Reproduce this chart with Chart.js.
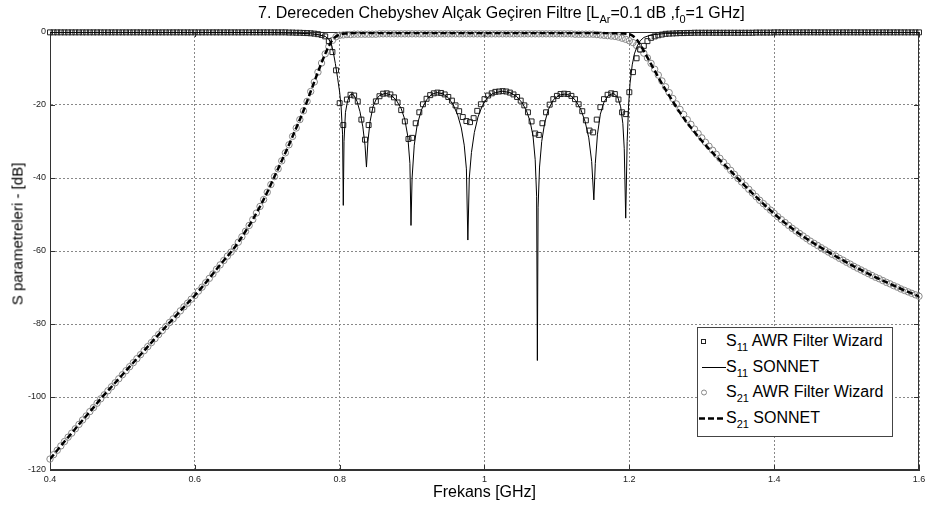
<!DOCTYPE html>
<html>
<head>
<meta charset="utf-8">
<script src="https://cdn.jsdelivr.net/npm/chart.js@4.4.0/dist/chart.umd.min.js"></script>
<style>
  body { margin: 0; background: #fff; }
  #wrap { position: relative; width: 925px; height: 508px; font-family: 'Liberation Sans', Arial, sans-serif; color: #000; }
  #title { position: absolute; left: 258px; top: 4px; font-size: 16px; line-height: 18px; white-space: nowrap; }
  #ytitle { position: absolute; left: 17px; top: 234px; font-size: 15px; line-height: 17px; white-space: nowrap; transform: translate(-50%, -50%) rotate(-90deg); }
  sub { font-size: 11px; vertical-align: -5px; line-height: 0; }
  #legend { position: absolute; left: 697px; top: 327px; width: 196px; height: 110px; border: 1px solid #444; background: #fff; box-sizing: border-box; }
  .row { position: absolute; left: 0; width: 100%; height: 20px; font-size: 16px; line-height: 20px; white-space: nowrap; }
  .row svg { position: absolute; left: 0; top: 0; }
  .row span { position: absolute; left: 28px; top: 0; }
</style>
</head>
<body>
<div id="wrap">
  <canvas id="chart" width="925" height="508"></canvas>
  <div id="title">7. Dereceden Chebyshev Alçak Geçiren Filtre [L<sub>Ar</sub>=0.1 dB ,f<sub>0</sub>=1 GHz]</div>
  <div id="ytitle">S parametreleri - [dB]</div>
  <div id="legend">
    <div class="row" style="top:3px">
      <svg width="28" height="20"><rect x="3.5" y="8.5" width="4" height="4" fill="none" stroke="#222" stroke-width="1"/></svg>
      <span>S<sub>11</sub> AWR Filter Wizard</span>
    </div>
    <div class="row" style="top:29px">
      <svg width="28" height="20"><line x1="4" y1="10.5" x2="28" y2="10.5" stroke="#000" stroke-width="1"/></svg>
      <span>S<sub>11</sub> SONNET</span>
    </div>
    <div class="row" style="top:54px">
      <svg width="28" height="20"><circle cx="6" cy="10.5" r="2.5" fill="none" stroke="#888" stroke-width="1"/></svg>
      <span>S<sub>21</sub> AWR Filter Wizard</span>
    </div>
    <div class="row" style="top:80px">
      <svg width="28" height="20"><line x1="1" y1="10.5" x2="27" y2="10.5" stroke="#000" stroke-width="2.5" stroke-dasharray="6,3"/></svg>
      <span>S<sub>21</sub> SONNET</span>
    </div>
  </div>
</div>
<script>
// Frequency sweep of the AWR Filter Wizard markers [GHz]
const freqAwr = [
  0.4, 0.405, 0.41, 0.415, 0.42, 0.425, 0.43, 0.435, 0.44, 0.445,
  0.45, 0.455, 0.46, 0.465, 0.47, 0.475, 0.48, 0.485, 0.49, 0.495,
  0.5, 0.505, 0.51, 0.515, 0.52, 0.525, 0.53, 0.535, 0.54, 0.545,
  0.55, 0.555, 0.56, 0.565, 0.57, 0.575, 0.58, 0.585, 0.59, 0.595,
  0.6, 0.605, 0.61, 0.615, 0.62, 0.625, 0.63, 0.635, 0.64, 0.645,
  0.65, 0.655, 0.66, 0.665, 0.67, 0.675, 0.68, 0.685, 0.69, 0.695,
  0.7, 0.705, 0.71, 0.715, 0.72, 0.725, 0.73, 0.735, 0.74, 0.745,
  0.75, 0.755, 0.76, 0.765, 0.77, 0.775, 0.78, 0.785, 0.79, 0.795,
  0.8, 0.805, 0.81, 0.815, 0.82, 0.825, 0.83, 0.835, 0.84, 0.845,
  0.85, 0.855, 0.86, 0.865, 0.87, 0.875, 0.88, 0.885, 0.89, 0.895,
  0.9, 0.905, 0.91, 0.915, 0.92, 0.925, 0.93, 0.935, 0.94, 0.945,
  0.95, 0.955, 0.96, 0.965, 0.97, 0.975, 0.98, 0.985, 0.99, 0.995,
  1, 1.005, 1.01, 1.015, 1.02, 1.025, 1.03, 1.035, 1.04, 1.045,
  1.05, 1.055, 1.06, 1.065, 1.07, 1.075, 1.08, 1.085, 1.09, 1.095,
  1.1, 1.105, 1.11, 1.115, 1.12, 1.125, 1.13, 1.135, 1.14, 1.145,
  1.15, 1.155, 1.16, 1.165, 1.17, 1.175, 1.18, 1.185, 1.19, 1.195,
  1.2, 1.205, 1.21, 1.215, 1.22, 1.225, 1.23, 1.235, 1.24, 1.245,
  1.25, 1.255, 1.26, 1.265, 1.27, 1.275, 1.28, 1.285, 1.29, 1.295,
  1.3, 1.305, 1.31, 1.315, 1.32, 1.325, 1.33, 1.335, 1.34, 1.345,
  1.35, 1.355, 1.36, 1.365, 1.37, 1.375, 1.38, 1.385, 1.39, 1.395,
  1.4, 1.405, 1.41, 1.415, 1.42, 1.425, 1.43, 1.435, 1.44, 1.445,
  1.45, 1.455, 1.46, 1.465, 1.47, 1.475, 1.48, 1.485, 1.49, 1.495,
  1.5, 1.505, 1.51, 1.515, 1.52, 1.525, 1.53, 1.535, 1.54, 1.545,
  1.55, 1.555, 1.56, 1.565, 1.57, 1.575, 1.58, 1.585, 1.59, 1.595,
  1.6
];

// S11 [dB], AWR Filter Wizard
const s11Awr = [
  -0.1, -0.1, -0.1, -0.1, -0.1, -0.1, -0.1, -0.1, -0.1, -0.1,
  -0.1, -0.1, -0.1, -0.1, -0.1, -0.1, -0.1, -0.1, -0.1, -0.1,
  -0.1, -0.1, -0.1, -0.1, -0.1, -0.1, -0.1, -0.1, -0.1, -0.1,
  -0.1, -0.1, -0.1, -0.1, -0.1, -0.1, -0.1, -0.1, -0.1, -0.1,
  -0.1, -0.1, -0.1, -0.1, -0.1, -0.1, -0.1, -0.1, -0.1, -0.1,
  -0.1, -0.1, -0.1, -0.1, -0.1, -0.1, -0.1, -0.1, -0.1, -0.1,
  -0.1, -0.1, -0.1, -0.1, -0.1, -0.1, -0.15, -0.15, -0.2, -0.2,
  -0.25, -0.3, -0.35, -0.45, -0.6, -0.8, -1.2, -2.5, -5.5, -10.5,
  -19.5, -25.5, -18.5, -17.2, -17.4, -19.0, -24.0, -29.5, -25.5, -21.3,
  -19.0, -17.6, -16.9, -16.8, -17.1, -17.9, -19.3, -21.4, -24.5, -29.3,
  -29.0, -25.0, -22.0, -19.8, -18.3, -17.3, -16.8, -16.6, -16.7, -17.1,
  -17.8, -18.8, -20.1, -21.7, -23.3, -24.4, -24.7, -23.6, -21.6, -19.8,
  -18.4, -17.4, -16.8, -16.4, -16.3, -16.2, -16.3, -16.6, -17.1, -17.8,
  -18.8, -20.1, -22.0, -24.5, -27.8, -28.2, -25.0, -22.0, -19.9, -18.4,
  -17.5, -17.0, -16.9, -17.0, -17.5, -18.4, -19.8, -21.7, -24.2, -27.0,
  -27.5, -24.0, -20.6, -18.4, -17.2, -16.8, -17.0, -18.5, -22.0, -22.5,
  -16.5, -11.0, -7.2, -4.8, -3.8, -2.5, -1.6, -1.2, -0.9, -0.7,
  -0.5, -0.45, -0.4, -0.35, -0.3, -0.3, -0.25, -0.25, -0.2, -0.2,
  -0.2, -0.2, -0.2, -0.2, -0.2, -0.2, -0.2, -0.2, -0.2, -0.2,
  -0.2, -0.2, -0.2, -0.2, -0.2, -0.15, -0.15, -0.15, -0.15, -0.15,
  -0.1, -0.1, -0.1, -0.1, -0.1, -0.1, -0.1, -0.1, -0.1, -0.1,
  -0.1, -0.1, -0.1, -0.1, -0.1, -0.1, -0.1, -0.1, -0.1, -0.1,
  -0.1, -0.1, -0.1, -0.1, -0.1, -0.1, -0.1, -0.1, -0.1, -0.1,
  -0.1, -0.1, -0.1, -0.1, -0.1, -0.1, -0.1, -0.1, -0.1, -0.1,
  -0.1
];

// S21 [dB], AWR Filter Wizard
const s21Awr = [
  -117.0, -115.8, -114.6, -113.4, -112.2, -111.0, -109.9, -108.7, -107.5, -106.3,
  -105.2, -104.0, -102.9, -101.7, -100.5, -99.4, -98.3, -97.2, -96.1, -95.0,
  -93.9, -92.8, -91.7, -90.6, -89.5, -88.4, -87.3, -86.2, -85.1, -84.0,
  -82.9, -81.8, -80.7, -79.6, -78.6, -77.5, -76.4, -75.3, -74.3, -73.2,
  -72.2, -71.0, -69.9, -68.7, -67.5, -66.3, -65.0, -63.8, -62.6, -61.4,
  -60.3, -59.0, -57.6, -56.1, -54.6, -53.0, -51.4, -49.6, -47.8, -45.9,
  -43.9, -41.8, -39.6, -37.5, -35.3, -33.1, -30.9, -28.6, -26.3, -24.0,
  -21.6, -19.0, -16.3, -13.7, -11.0, -8.5, -6.0, -4.0, -2.3, -1.3,
  -0.9, -0.8, -0.7, -0.7, -0.6, -0.6, -0.6, -0.6, -0.6, -0.6,
  -0.6, -0.5, -0.5, -0.5, -0.5, -0.5, -0.5, -0.5, -0.5, -0.5,
  -0.5, -0.5, -0.5, -0.5, -0.5, -0.5, -0.5, -0.5, -0.5, -0.5,
  -0.5, -0.5, -0.5, -0.5, -0.5, -0.5, -0.5, -0.5, -0.5, -0.5,
  -0.5, -0.5, -0.5, -0.5, -0.5, -0.5, -0.5, -0.5, -0.5, -0.5,
  -0.5, -0.5, -0.5, -0.5, -0.5, -0.5, -0.5, -0.5, -0.5, -0.5,
  -0.5, -0.5, -0.5, -0.5, -0.5, -0.6, -0.6, -0.6, -0.6, -0.6,
  -0.6, -0.7, -0.8, -0.9, -1.0, -1.1, -1.2, -1.4, -1.7, -2.0,
  -2.4, -2.9, -3.7, -4.7, -5.8, -7.1, -8.6, -10.2, -11.8, -13.4,
  -15.0, -16.6, -18.2, -19.7, -21.2, -22.6, -24.0, -25.3, -26.6, -27.8,
  -29.0, -30.2, -31.3, -32.4, -33.5, -34.6, -35.7, -36.8, -37.9, -39.0,
  -40.1, -41.1, -42.1, -43.1, -44.1, -45.1, -46.1, -47.0, -47.9, -48.8,
  -49.7, -50.6, -51.4, -52.2, -53.0, -53.8, -54.5, -55.2, -55.9, -56.6,
  -57.3, -57.9, -58.5, -59.1, -59.7, -60.3, -60.9, -61.4, -62.0, -62.5,
  -63.1, -63.6, -64.2, -64.7, -65.2, -65.7, -66.2, -66.7, -67.2, -67.6,
  -68.1, -68.6, -69.0, -69.5, -69.9, -70.4, -70.8, -71.2, -71.6, -72.0,
  -72.4
];

// S11 [dB], SONNET (its own frequency points, denser at the reflection zeros)
const freqS11Sonnet = [
  0.4, 0.5, 0.6, 0.7, 0.74, 0.76, 0.77, 0.78, 0.785, 0.788,
  0.791, 0.794, 0.797, 0.8, 0.802, 0.804, 0.805, 0.806, 0.808, 0.811,
  0.814, 0.817, 0.82, 0.824, 0.828, 0.832, 0.835, 0.837, 0.839, 0.842,
  0.846, 0.85, 0.855, 0.863, 0.87, 0.878, 0.885, 0.89, 0.894, 0.897,
  0.8985, 0.9, 0.903, 0.907, 0.913, 0.92, 0.927, 0.934, 0.942, 0.95,
  0.957, 0.963, 0.968, 0.972, 0.975, 0.977, 0.979, 0.982, 0.986, 0.991,
  0.997, 1.004, 1.012, 1.024, 1.035, 1.044, 1.052, 1.058, 1.063, 1.067,
  1.07, 1.072, 1.073, 1.074, 1.076, 1.079, 1.083, 1.088, 1.095, 1.103,
  1.111, 1.119, 1.126, 1.133, 1.139, 1.144, 1.148, 1.151, 1.153, 1.156,
  1.16, 1.165, 1.171, 1.178, 1.184, 1.188, 1.191, 1.193, 1.195, 1.197,
  1.199, 1.201, 1.204, 1.207, 1.211, 1.215, 1.22, 1.23, 1.25, 1.3,
  1.4, 1.5, 1.6
];
const s11Sonnet = [
  -0.05, -0.05, -0.08, -0.15, -0.3, -0.5, -0.7, -1.2, -2.0, -3.0,
  -5.3, -8.6, -12.4, -16.5, -20.5, -28, -47.5, -30, -22, -18.8,
  -17.3, -17.0, -17.4, -19.0, -21.8, -26, -31, -37, -30, -24.5,
  -20.5, -18.6, -17.4, -16.8, -17.2, -18.6, -21.0, -24.0, -28.5, -36,
  -53, -40, -31, -25.5, -21.3, -18.6, -17.1, -16.6, -16.9, -18.0,
  -20.0, -22.8, -26.3, -31.0, -37.5, -57, -40, -33, -27.5, -23.3,
  -20.2, -18.0, -16.8, -16.2, -16.6, -17.6, -19.4, -21.6, -24.5, -28.5,
  -35, -45, -90, -48, -37, -30, -25, -21.3, -18.6, -17.3,
  -17.0, -17.4, -18.8, -21.2, -24.6, -29, -35.5, -46, -36, -28,
  -22.5, -19.2, -17.4, -16.8, -17.8, -20.5, -25, -32, -51, -30,
  -20, -14, -9, -6, -3.8, -2.4, -1.5, -0.8, -0.4, -0.2,
  -0.1, -0.05, -0.05
];

// S21 [dB], SONNET
const freqS21Sonnet = [
  0.4, 0.41, 0.42, 0.43, 0.44, 0.45, 0.46, 0.47, 0.48, 0.49,
  0.5, 0.51, 0.52, 0.53, 0.54, 0.55, 0.56, 0.57, 0.58, 0.59,
  0.6, 0.61, 0.62, 0.63, 0.64, 0.65, 0.66, 0.67, 0.68, 0.69,
  0.7, 0.71, 0.72, 0.73, 0.74, 0.75, 0.76, 0.77, 0.78, 0.79,
  0.8, 0.81, 0.82, 0.83, 0.84, 0.85, 0.86, 0.87, 0.88, 0.89,
  0.9, 0.91, 0.92, 0.93, 0.94, 0.95, 0.96, 0.97, 0.98, 0.99,
  1, 1.01, 1.02, 1.03, 1.04, 1.05, 1.06, 1.07, 1.08, 1.09,
  1.1, 1.11, 1.12, 1.13, 1.14, 1.15, 1.16, 1.17, 1.18, 1.19,
  1.2, 1.21, 1.22, 1.23, 1.24, 1.25, 1.26, 1.27, 1.28, 1.29,
  1.3, 1.31, 1.32, 1.33, 1.34, 1.35, 1.36, 1.37, 1.38, 1.39,
  1.4, 1.41, 1.42, 1.43, 1.44, 1.45, 1.46, 1.47, 1.48, 1.49,
  1.5, 1.51, 1.52, 1.53, 1.54, 1.55, 1.56, 1.57, 1.58, 1.59,
  1.6
];
const s21Sonnet = [
  -117.0, -114.6, -112.2, -109.9, -107.5, -105.2, -102.9, -100.5, -98.3, -96.1,
  -93.9, -91.7, -89.5, -87.3, -85.1, -82.9, -80.7, -78.6, -76.4, -74.3,
  -72.2, -69.9, -67.5, -65.0, -62.6, -60.3, -57.6, -54.6, -51.4, -47.8,
  -43.9, -39.6, -35.3, -30.9, -26.3, -21.6, -16.3, -11.0, -6.0, -2.2,
  -0.7, -0.4, -0.3, -0.3, -0.3, -0.3, -0.3, -0.3, -0.3, -0.3,
  -0.3, -0.3, -0.3, -0.3, -0.3, -0.3, -0.3, -0.3, -0.3, -0.3,
  -0.3, -0.3, -0.3, -0.3, -0.3, -0.3, -0.3, -0.3, -0.3, -0.3,
  -0.3, -0.3, -0.3, -0.3, -0.3, -0.3, -0.3, -0.3, -0.35, -0.4,
  -0.6, -2.0, -5.2, -8.8, -12.4, -15.8, -19.0, -22.1, -24.9, -27.4,
  -29.8, -32.0, -34.1, -36.1, -38.1, -40.2, -42.2, -44.2, -46.1, -48.0,
  -49.8, -51.5, -53.1, -54.6, -56.0, -57.3, -58.5, -59.7, -60.9, -62.0,
  -63.1, -64.2, -65.2, -66.2, -67.2, -68.1, -69.0, -69.9, -70.8, -71.6,
  -72.4
];

const xTicks = [0.4, 0.6, 0.8, 1, 1.2, 1.4, 1.6];
const yTicks = [-120, -100, -80, -60, -40, -20, 0];

function toPoints(xs, ys) {
  return xs.map((x, i) => ({ x: x, y: ys[i] }));
}

// Box around the axes plus small inward tick marks, like the original plot
const framePlugin = {
  id: 'frame',
  beforeDatasetsDraw(chart) {
    const { ctx, chartArea: a, scales } = chart;
    ctx.save();
    ctx.strokeStyle = '#333';
    ctx.lineWidth = 1;
    ctx.strokeRect(a.left + 0.5, a.top + 0.5, a.right - a.left - 1, a.bottom - a.top - 1);
    ctx.beginPath();
    xTicks.forEach(v => {
      const x = Math.round(scales.x.getPixelForValue(v)) + 0.5;
      ctx.moveTo(x, a.bottom); ctx.lineTo(x, a.bottom - 5);
      ctx.moveTo(x, a.top); ctx.lineTo(x, a.top + 5);
    });
    yTicks.forEach(v => {
      const y = Math.round(scales.y.getPixelForValue(v)) + 0.5;
      ctx.moveTo(a.left, y); ctx.lineTo(a.left + 5, y);
      ctx.moveTo(a.right, y); ctx.lineTo(a.right - 5, y);
    });
    ctx.stroke();
    ctx.restore();
  }
};

const font = "'Liberation Sans', Arial, sans-serif";

new Chart(document.getElementById('chart'), {
  type: 'scatter',
  data: {
    datasets: [
      {
        label: 'S21 SONNET',
        data: toPoints(freqS21Sonnet, s21Sonnet),
        showLine: true,
        borderColor: '#000',
        borderWidth: 2.5,
        borderDash: [6, 3],
        pointRadius: 0,
        cubicInterpolationMode: 'monotone',
        order: 1
      },
      {
        label: 'S11 SONNET',
        data: toPoints(freqS11Sonnet, s11Sonnet),
        showLine: true,
        borderColor: '#000',
        borderWidth: 1,
        pointRadius: 0,
        order: 2
      },
      {
        label: 'S11 AWR Filter Wizard',
        data: toPoints(freqAwr, s11Awr),
        showLine: false,
        pointStyle: 'rect',
        pointRadius: 3.5,
        pointBorderColor: '#222',
        pointBorderWidth: 1,
        pointBackgroundColor: 'rgba(255,255,255,0)',
        clip: false,
        order: 3
      },
      {
        label: 'S21 AWR Filter Wizard',
        data: toPoints(freqAwr, s21Awr),
        showLine: false,
        pointStyle: 'circle',
        pointRadius: 3.2,
        pointBorderColor: '#888',
        pointBorderWidth: 1,
        pointBackgroundColor: 'rgba(255,255,255,0)',
        clip: false,
        order: 4
      }
    ]
  },
  options: {
    responsive: false,
    animation: false,
    layout: { padding: { top: 32, right: 6, left: 0, bottom: 0 } },
    plugins: {
      legend: { display: false },
      tooltip: { enabled: false }
    },
    scales: {
      x: {
        type: 'linear',
        min: 0.4,
        max: 1.6,
        afterBuildTicks: s => { s.ticks = xTicks.map(v => ({ value: v })); },
        afterFit: s => { s.height = 38; s.paddingLeft = 0; s.paddingRight = 0; },
        ticks: {
          padding: 4,
          font: { family: font, size: 9 },
          color: '#222',
          callback: v => String(+v.toFixed(1))
        },
        grid: { color: '#888', drawTicks: false },
        border: { color: '#333', dash: [2, 2] },
        title: {
          display: true,
          text: 'Frekans [GHz]',
          font: { family: font, size: 16 },
          color: '#000',
          padding: { top: 0, bottom: 6 }
        }
      },
      y: {
        min: -120,
        max: 0,
        afterBuildTicks: s => { s.ticks = yTicks.map(v => ({ value: v })); },
        afterFit: s => { s.width = 50; },
        ticks: {
          padding: 4,
          font: { family: font, size: 9 },
          color: '#222'
        },
        grid: { color: '#888', drawTicks: false },
        border: { color: '#333', dash: [2, 2] },
        title: { display: false }
      }
    }
  },
  plugins: [framePlugin]
});
</script>
</body>
</html>
